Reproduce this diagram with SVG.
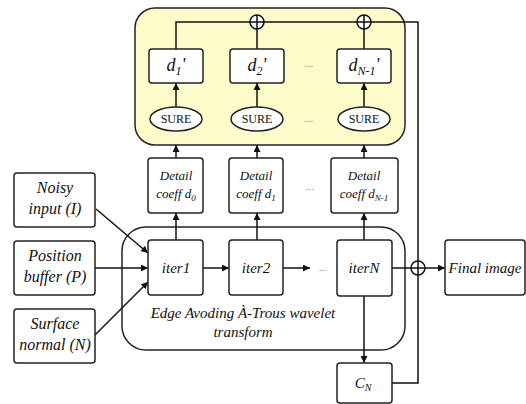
<svg xmlns="http://www.w3.org/2000/svg" width="526" height="404" viewBox="0 0 526 404">
<defs>
<style>
.box{fill:#fff;stroke:#222;stroke-width:1.5}
.ln{fill:none;stroke:#111;stroke-width:1.5}
.t{font-family:"Liberation Serif",serif;font-style:italic;fill:#111;text-anchor:middle}
.s{font-family:"Liberation Serif",serif;fill:#111;text-anchor:middle}
.dots{font-family:"Liberation Sans",sans-serif;fill:#777;font-size:10px;text-anchor:middle}
</style>
<marker id="ah" viewBox="0 0 10 10" refX="10" refY="5" markerWidth="7" markerHeight="7" markerUnits="userSpaceOnUse" orient="auto">
<path d="M0,0 L10,5 L0,10 z" fill="#111"/>
</marker>
</defs>
<rect width="526" height="404" fill="#fff"/>

<g id="sure-panel">
<rect x="135" y="8" width="270" height="137" rx="20" fill="#fdfbc9" stroke="#222" stroke-width="1.5"/>
</g>
<g id="eaw-panel">
<rect x="122" y="227" width="283" height="123" rx="24" fill="none" stroke="#222" stroke-width="1.5"/>
<text class="t" x="243" y="318" font-size="15">Edge Avoding À-Trous wavelet</text>
<text class="t" x="243" y="337" font-size="15">transform</text>
</g>

<g id="connectors">
<path class="ln" d="M392,383 H418 V22 H176 V49"/>
<line class="ln" x1="257" y1="29" x2="257" y2="49"/>
<line class="ln" x1="364" y1="29" x2="364" y2="49"/>
<line class="ln" x1="176" y1="107" x2="176" y2="83" marker-end="url(#ah)"/>
<line class="ln" x1="257" y1="107" x2="257" y2="83" marker-end="url(#ah)"/>
<line class="ln" x1="364" y1="107" x2="364" y2="83" marker-end="url(#ah)"/>
<line class="ln" x1="176" y1="158" x2="176" y2="145" marker-end="url(#ah)"/>
<line class="ln" x1="257" y1="158" x2="257" y2="145" marker-end="url(#ah)"/>
<line class="ln" x1="364" y1="158" x2="364" y2="145" marker-end="url(#ah)"/>
<line class="ln" x1="176" y1="240" x2="176" y2="213" marker-end="url(#ah)"/>
<line class="ln" x1="257" y1="240" x2="257" y2="213" marker-end="url(#ah)"/>
<line class="ln" x1="364" y1="240" x2="364" y2="213" marker-end="url(#ah)"/>
<line class="ln" x1="96" y1="209" x2="148" y2="253" marker-end="url(#ah)"/>
<line class="ln" x1="95" y1="268" x2="148" y2="268" marker-end="url(#ah)"/>
<line class="ln" x1="95" y1="335" x2="148" y2="282" marker-end="url(#ah)"/>
<line class="ln" x1="203" y1="268" x2="229" y2="268" marker-end="url(#ah)"/>
<line class="ln" x1="283" y1="268" x2="310" y2="268" marker-end="url(#ah)"/>
<line class="ln" x1="364" y1="296" x2="364" y2="363" marker-end="url(#ah)"/>
<line class="ln" x1="392" y1="268" x2="411" y2="268"/>
<line class="ln" x1="425" y1="268" x2="445" y2="268" marker-end="url(#ah)"/>
<g id="oplus1"><circle cx="257" cy="22" r="7" fill="#fff" stroke="#111" stroke-width="1.5"/><path class="ln" d="M250,22 H264 M257,15 V29"/></g>
<g id="oplus2"><circle cx="364" cy="22" r="7" fill="#fff" stroke="#111" stroke-width="1.5"/><path class="ln" d="M357,22 H371 M364,15 V29"/></g>
<g id="oplus3"><circle cx="418" cy="268" r="7" fill="#fff" stroke="#111" stroke-width="1.5"/><path class="ln" d="M411,268 H425 M418,261 V275"/></g>
</g>

<g id="d1p"><rect class="box" x="149" y="49" width="54" height="34" rx="3"/><text class="t" x="176" y="71" font-size="18">d<tspan font-size="12" dy="4">1</tspan><tspan dy="-4">'</tspan></text></g>
<g id="d2p"><rect class="box" x="230" y="49" width="54" height="34" rx="3"/><text class="t" x="257" y="71" font-size="18">d<tspan font-size="12" dy="4">2</tspan><tspan dy="-4">'</tspan></text></g>
<g id="dN1p"><rect class="box" x="337" y="49" width="54" height="34" rx="3"/><text class="t" x="364" y="71" font-size="18">d<tspan font-size="12" dy="4">N-1</tspan><tspan dy="-4">'</tspan></text></g>
<text class="dots" x="309" y="67">...</text>

<g id="sure1"><ellipse cx="176" cy="119" rx="26" ry="12" fill="#fff" stroke="#222" stroke-width="1.5"/><text class="s" x="176" y="123" font-size="12">SURE</text></g>
<g id="sure2"><ellipse cx="257" cy="119" rx="26" ry="12" fill="#fff" stroke="#222" stroke-width="1.5"/><text class="s" x="257" y="123" font-size="12">SURE</text></g>
<g id="sureN"><ellipse cx="364" cy="119" rx="26" ry="12" fill="#fff" stroke="#222" stroke-width="1.5"/><text class="s" x="364" y="123" font-size="12">SURE</text></g>
<text class="dots" x="309" y="122">...</text>

<g id="detail0"><rect class="box" x="148" y="158" width="55" height="55" rx="3"/><text class="t" x="176" y="180" font-size="13">Detail</text><text class="t" x="176" y="198" font-size="13">coeff d<tspan font-size="9" dy="3">0</tspan></text></g>
<g id="detail1"><rect class="box" x="229" y="158" width="54" height="55" rx="3"/><text class="t" x="256" y="180" font-size="13">Detail</text><text class="t" x="256" y="198" font-size="13">coeff d<tspan font-size="9" dy="3">1</tspan></text></g>
<g id="detailN1"><rect class="box" x="331" y="158" width="67" height="55" rx="3"/><text class="t" x="364" y="180" font-size="13">Detail</text><text class="t" x="364" y="198" font-size="13">coeff d<tspan font-size="9" dy="3">N-1</tspan></text></g>
<text class="dots" x="310" y="190">...</text>

<g id="noisy"><rect class="box" x="14" y="173" width="81" height="54" rx="3"/><text class="t" x="55" y="193" font-size="16">Noisy</text><text class="t" x="55" y="214" font-size="16">input (I)</text></g>
<g id="position"><rect class="box" x="14" y="241" width="81" height="54" rx="3"/><text class="t" x="55" y="261" font-size="16">Position</text><text class="t" x="55" y="282" font-size="16">buffer (P)</text></g>
<g id="surface"><rect class="box" x="14" y="309" width="81" height="54" rx="3"/><text class="t" x="55" y="329" font-size="16">Surface</text><text class="t" x="55" y="350" font-size="16">normal (N)</text></g>

<g id="iter1"><rect class="box" x="148" y="240" width="55" height="55" rx="3"/><text class="t" x="176" y="273" font-size="15">iter1</text></g>
<g id="iter2"><rect class="box" x="229" y="240" width="54" height="55" rx="3"/><text class="t" x="256" y="273" font-size="15">iter2</text></g>
<text class="dots" x="323" y="271">...</text>
<g id="iterN"><rect class="box" x="337" y="240" width="55" height="56" rx="3"/><text class="t" x="364" y="273" font-size="15">iterN</text></g>

<g id="cn"><rect class="box" x="337" y="363" width="55" height="40" rx="3"/><text class="t" x="363" y="388" font-size="15">C<tspan font-size="10" dy="3">N</tspan></text></g>
<g id="final"><rect class="box" x="445" y="240" width="80" height="55" rx="3"/><text class="t" x="485" y="273" font-size="15">Final image</text></g>
</svg>
